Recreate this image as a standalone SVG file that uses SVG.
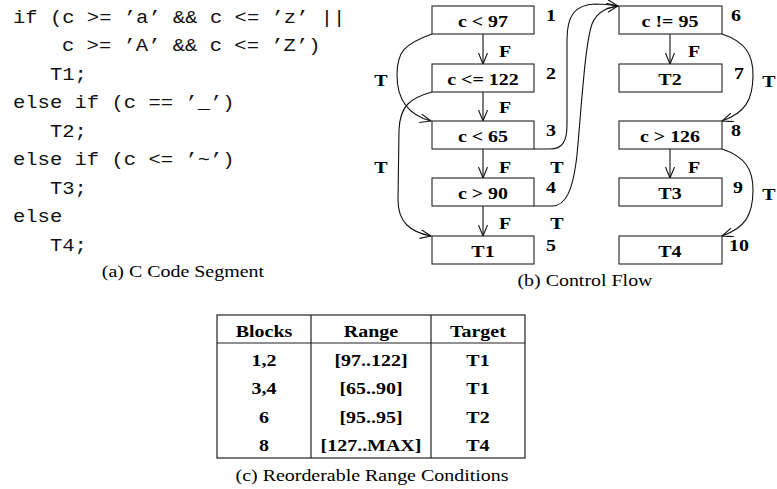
<svg xmlns="http://www.w3.org/2000/svg" width="777" height="489" viewBox="0 0 777 489">
  <style>
    text { fill: #000; }
    .sx { transform: scaleX(1.14); transform-box: fill-box; transform-origin: center; }
    .code { font-family: "Liberation Mono", "DejaVu Sans Mono", monospace; font-size: 18px; white-space: pre; transform-origin: left center; fill: #111; }
    .cap { font-family: "Liberation Serif", "Times New Roman", serif; font-size: 17.5px; text-anchor: middle; }
    .b { font-family: "Liberation Serif", "Times New Roman", serif; font-size: 17.5px; font-weight: bold; text-anchor: middle; }
    .num { font-family: "Liberation Serif", "Times New Roman", serif; font-size: 17.5px; font-weight: bold; text-anchor: start; transform-origin: left center; }
    .box { fill: #fff; stroke: #222; stroke-width: 1.1; }
    .edge { fill: none; stroke: #111; stroke-width: 1.1; marker-end: url(#arr); }
    .grid { fill: none; stroke: #222; stroke-width: 1.2; }
  </style>
  <defs>
    <marker id="arr" markerUnits="userSpaceOnUse" markerWidth="12" markerHeight="10" refX="11" refY="4.5" orient="auto">
      <path d="M0,0 L11,4.5 L0,9" fill="none" stroke="#111" stroke-width="1.1"/>
    </marker>
  </defs>

  <!-- (a) source code -->
  <g id="code">
    <text class="code sx" x="13" y="23">if (c &gt;= ’a’ &amp;&amp; c &lt;= ’z’ ||</text>
    <text class="code sx" x="62" y="51.5">c &gt;= ’A’ &amp;&amp; c &lt;= ’Z’)</text>
    <text class="code sx" x="50" y="80">T1;</text>
    <text class="code sx" x="13" y="108.5">else if (c == ’_’)</text>
    <text class="code sx" x="50" y="137">T2;</text>
    <text class="code sx" x="13" y="165.5">else if (c &lt;= ’~’)</text>
    <text class="code sx" x="50" y="194">T3;</text>
    <text class="code sx" x="13" y="222.5">else</text>
    <text class="code sx" x="50" y="251">T4;</text>
    <text class="cap sx" x="183" y="277">(a) C Code Segment</text>
  </g>

  <!-- (b) control flow: connectors -->
  <g id="connectors">
    <path class="edge" d="M483,34 L483,64"/>
    <path class="edge" d="M483,92 L483,121"/>
    <path class="edge" d="M483,149 L483,178"/>
    <path class="edge" d="M483,206 L483,236"/>
    <path class="edge" d="M670,34 L670,64"/>
    <path class="edge" d="M670,149 L670,178"/>
    <path class="edge" d="M432,34 C404,44 397,52 397,75 C397,100 408,115 431,121"/>
    <path class="edge" d="M432,92 C410,98 400,106 399,130 L398,200 C398,222 410,232 431,236"/>
    <path class="edge" d="M534,149 L550,149 C562,149 567,142 567,125 L567,40 C567,15 575,5 595,4 C605,4 612,5 618,6"/>
    <path class="edge" d="M534,206 L552,206 C566,206 573,190 577,155 C582,100 585,45 592,24 C597,12 606,8 618,6"/>
    <path class="edge" d="M722,34 C746,42 753,55 753,75 C753,100 745,113 722,121"/>
    <path class="edge" d="M722,149 C746,157 753,170 753,190 C753,215 745,228 722,236"/>
  </g>

  <!-- edge labels -->
  <g id="edge-labels">
    <text class="b sx" x="505" y="57">F</text>
    <text class="b sx" x="505" y="113">F</text>
    <text class="b sx" x="505" y="173">F</text>
    <text class="b sx" x="505" y="229">F</text>
    <text class="b sx" x="694" y="57">F</text>
    <text class="b sx" x="694" y="173">F</text>
    <text class="b sx" x="381" y="86">T</text>
    <text class="b sx" x="381" y="173">T</text>
    <text class="b sx" x="557" y="173">T</text>
    <text class="b sx" x="557" y="229">T</text>
    <text class="b sx" x="769" y="87">T</text>
    <text class="b sx" x="769" y="200">T</text>
  </g>

  <!-- blocks -->
  <g id="n1"><rect class="box" x="432" y="6" width="102" height="28"/><text class="b sx" x="483" y="27">c &lt; 97</text><text class="num sx" x="546" y="21">1</text></g>
  <g id="n2"><rect class="box" x="432" y="64" width="102" height="28"/><text class="b sx" x="483" y="85">c &lt;= 122</text><text class="num sx" x="546" y="79">2</text></g>
  <g id="n3"><rect class="box" x="432" y="121" width="102" height="28"/><text class="b sx" x="483" y="142">c &lt; 65</text><text class="num sx" x="546" y="136">3</text></g>
  <g id="n4"><rect class="box" x="432" y="178" width="102" height="28"/><text class="b sx" x="483" y="199">c &gt; 90</text><text class="num sx" x="546" y="193">4</text></g>
  <g id="n5"><rect class="box" x="432" y="236" width="102" height="28"/><text class="b sx" x="483" y="257">T1</text><text class="num sx" x="546" y="251">5</text></g>
  <g id="n6"><rect class="box" x="619" y="6" width="103" height="28"/><text class="b sx" x="670" y="27">c != 95</text><text class="num sx" x="731" y="21">6</text></g>
  <g id="n7"><rect class="box" x="619" y="64" width="103" height="28"/><text class="b sx" x="670" y="85">T2</text><text class="num sx" x="734" y="79">7</text></g>
  <g id="n8"><rect class="box" x="619" y="121" width="103" height="28"/><text class="b sx" x="670" y="142">c &gt; 126</text><text class="num sx" x="731" y="136">8</text></g>
  <g id="n9"><rect class="box" x="619" y="178" width="103" height="28"/><text class="b sx" x="670" y="199">T3</text><text class="num sx" x="733" y="193">9</text></g>
  <g id="n10"><rect class="box" x="619" y="236" width="103" height="28"/><text class="b sx" x="670" y="257">T4</text><text class="num sx" x="729" y="251">10</text></g>
  <text class="cap sx" x="585" y="286">(b) Control Flow</text>

  <!-- (c) range table -->
  <g id="table">
    <rect class="grid" x="217" y="315" width="308" height="143"/>
    <line class="grid" x1="217" y1="343" x2="525" y2="343"/>
    <line class="grid" x1="311" y1="315" x2="311" y2="458"/>
    <line class="grid" x1="431" y1="315" x2="431" y2="458"/>
    <text class="b sx" x="264" y="337">Blocks</text>
    <text class="b sx" x="371" y="337">Range</text>
    <text class="b sx" x="478" y="337">Target</text>
    <text class="b sx" x="264" y="366">1,2</text>
    <text class="b sx" x="371" y="366">[97..122]</text>
    <text class="b sx" x="478" y="366">T1</text>
    <text class="b sx" x="264" y="394">3,4</text>
    <text class="b sx" x="371" y="394">[65..90]</text>
    <text class="b sx" x="478" y="394">T1</text>
    <text class="b sx" x="264" y="423">6</text>
    <text class="b sx" x="371" y="423">[95..95]</text>
    <text class="b sx" x="478" y="423">T2</text>
    <text class="b sx" x="264" y="451">8</text>
    <text class="b sx" x="371" y="451">[127..MAX]</text>
    <text class="b sx" x="478" y="451">T4</text>
    <text class="cap sx" x="372" y="481">(c) Reorderable Range Conditions</text>
  </g>
</svg>
